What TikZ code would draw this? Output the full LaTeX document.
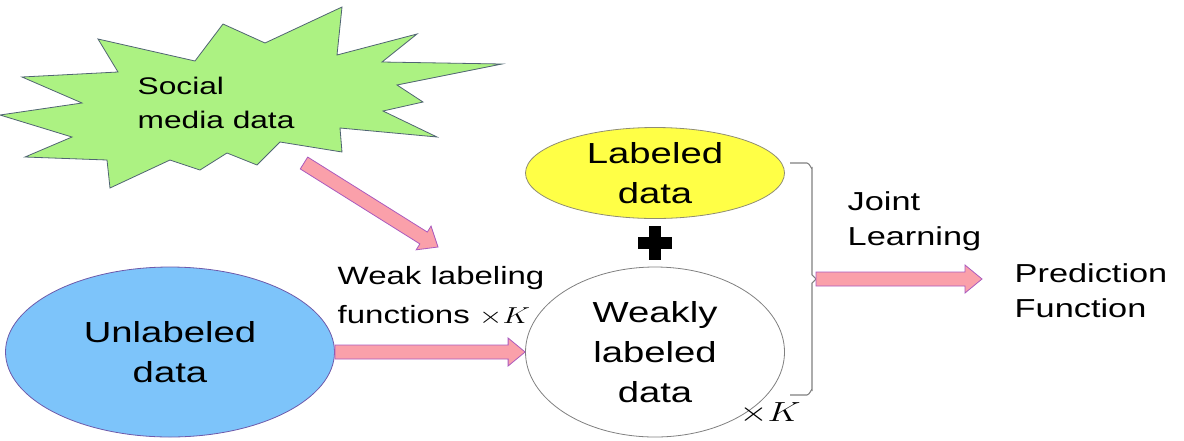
\documentclass[tikz,border=0pt]{standalone}
\usepackage{fontspec}
\setmainfont{Liberation Sans}[FakeStretch=1.32]
\usetikzlibrary{shapes.geometric,calc}

\definecolor{burstgreen}{RGB}{172,242,130}
\definecolor{burstline}{RGB}{80,100,115}
\definecolor{labyellow}{RGB}{255,255,70}
\definecolor{unlblue}{RGB}{125,196,250}
\definecolor{unlline}{RGB}{110,90,170}
\definecolor{arrowpink}{RGB}{250,160,170}
\definecolor{arrowline}{RGB}{170,90,190}

% stretched math, to go with the stretched text
\newcommand{\wideK}{\scalebox{1.32}[1]{$\times K$}}

% fat block arrow from #1 to #2
\newcommand{\fatarrow}[2]{%
  \draw[fatarrow] ($(#1)!5.25pt!90:(#2)$)
    -- ($(#2)!12.75pt!(#1)!5.25pt!-90:(#1)$)
    -- ($(#2)!12.75pt!(#1)!10.5pt!-90:(#1)$)
    -- (#2)
    -- ($(#2)!12.75pt!(#1)!10.5pt!90:(#1)$)
    -- ($(#2)!12.75pt!(#1)!5.25pt!90:(#1)$)
    -- ($(#1)!5.25pt!-90:(#2)$) -- cycle;}

\begin{document}
\begin{tikzpicture}[x=0.75pt, y=-0.75pt,
  fatarrow/.style={fill=arrowpink, draw=arrowline, line width=0.6pt},
  blob/.style={ellipse, draw=gray, line width=0.6pt, inner sep=0pt, align=center,
    minimum width=194.25pt, font=\fontsize{21.75}{30}\selectfont},
  txt/.style={anchor=west, align=left, font=\fontsize{19.5}{26.25}\selectfont}]
\useasboundingbox (0,0) rectangle (1184,440);

% social media burst
\draw[fill=burstgreen, draw=burstline, line width=0.6pt]
  (0,115) -- (82,103) -- (22,77) -- (118,72) -- (98,39) -- (195,61)
  -- (223,24) -- (265,43) -- (342,7) -- (337,55) -- (417,34) -- (382,62)
  -- (502,64) -- (397,85) -- (423,102) -- (383,111) -- (437,137) -- (340,128)
  -- (342,152) -- (280,142) -- (257,165) -- (227,153) -- (200,170) -- (170,160)
  -- (110,188) -- (107,160) -- (25,157) -- (72,137) -- cycle;
\node[txt, font=\fontsize{18}{25.5}\selectfont] (social) at (133,103) {Social\\media data};

\node[blob, fill=unlblue, draw=unlline, minimum width=246.75pt, minimum height=127.5pt]
  (unl) at (170,352) {Unlabeled\\data};
\node[blob, fill=labyellow, draw=gray!80!olive, minimum height=68.25pt]
  (lab) at (655,173) {Labeled\\data};
\node[blob, fill=white, minimum height=127.5pt] (weak) at (655,352) {Weakly\\labeled\\data};
\node[font=\fontsize{21}{24}\selectfont] (timesk) at (770,413) {\wideK};

% plus
\coordinate (plus) at (655,243);
\fill (plus) +(-17,-6) rectangle +(17,6);
\fill (plus) +(-6,-17) rectangle +(6,17);

\node[txt, font=\fontsize{18.75}{29.25}\selectfont] (wlf) at (333,296)
  {Weak labeling\\functions \wideK};
\node[txt] (joint) at (843,221) {Joint\\Learning};
\node[txt] (pred) at (1010,291) {Prediction\\Function};

% bracket
\coordinate (brace) at (816,279);
\draw[gray, line width=0.8pt] (790,163) -- (807,163) to[out=0,in=-90] (812,168)
  -- (812,275) -- (brace) -- (812,283) -- (812,390) to[out=90,in=0] (807,395) -- (790,395);

% arrows
\coordinate (socialtail) at (304,163);
\coordinate (socialtip) at (438,247);
\coordinate (jointtip) at (982,279);
\fatarrow{socialtail}{socialtip}
\fatarrow{unl.east}{weak.west}
\fatarrow{brace}{jointtip}
\end{tikzpicture}
\end{document}
